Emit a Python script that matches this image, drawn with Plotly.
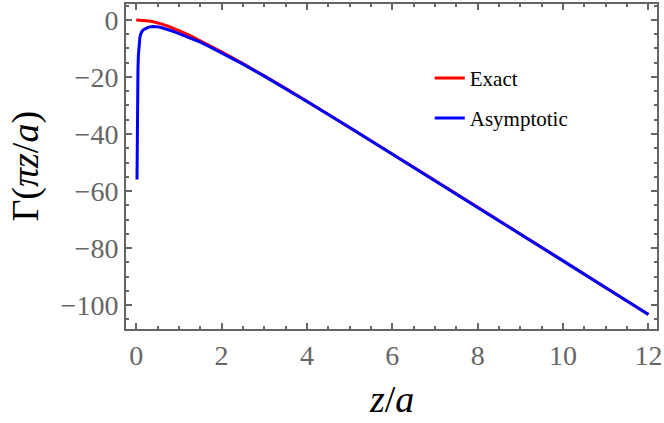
import plotly.graph_objects as go

# values
z_exact = [0, 0.1, 0.2, 0.3, 0.4, 0.5, 0.6, 0.75, 0.9, 1.0, 1.25, 1.5, 1.75, 2,
           2.5, 3, 3.5, 4, 5, 6, 7, 8, 9, 10, 11, 12]
gamma_exact = [0, -0.05, -0.2, -0.4, -0.65, -1.0, -1.45, -2.2, -3.0, -3.7, -5.4,
               -7.3, -9.2, -11.2, -15.3, -19.5, -24.0, -28.5, -37.7, -47.0,
               -56.3, -65.7, -75.1, -84.5, -93.9, -103.3]

z_asym = [0.018, 0.022, 0.027, 0.033, 0.04, 0.05, 0.06, 0.07, 0.085, 0.1, 0.13,
          0.17, 0.22, 0.29, 0.38, 0.48, 0.6, 0.75, 0.9, 1.0, 1.25, 1.5, 1.75, 2,
          2.5, 3, 3.5, 4, 5, 6, 7, 8, 9, 10, 11, 12]
gamma_asym = [-56, -42, -31, -23, -17.5, -12.5, -9.5, -7.8, -6.2, -5.2, -4.1,
              -3.4, -2.9, -2.5, -2.3, -2.35, -2.75, -3.4, -4.2, -4.8, -6.2, -7.8,
              -9.6, -11.5, -15.5, -19.7, -24.1, -28.6, -37.7, -47.0, -56.3,
              -65.7, -75.1, -84.5, -93.9, -103.3]

x_ticks = [0, 2, 4, 6, 8, 10, 12]
y_ticks = [0, -20, -40, -60, -80, -100]

FRAME = '#666666'
SERIF = 'Liberation Serif, Times New Roman, serif'

fig = go.Figure()

fig.add_trace(go.Scatter(
    x=z_exact, y=gamma_exact, mode='lines', name='Exact',
    line=dict(color='#ff0000', width=3), legend='legend'
))
fig.add_trace(go.Scatter(
    x=z_asym, y=gamma_asym, mode='lines', name='Asymptotic',
    line=dict(color='#0000ff', width=3), legend='legend2'
))

axis_common = dict(
    showline=True, linecolor=FRAME, linewidth=2, mirror='ticks',
    ticks='inside', ticklen=6, tickwidth=2, tickcolor=FRAME,
    showgrid=False, zeroline=False,
    tickfont=dict(family=SERIF, size=28, color=FRAME),
)

legend_common = dict(
    xanchor='left', yanchor='middle', bgcolor='rgba(0,0,0,0)',
    font=dict(family=SERIF, size=21, color='black'),
)

fig.update_layout(
    width=664, height=423,
    margin=dict(l=126, r=6, t=2, b=94),
    paper_bgcolor='white', plot_bgcolor='white',
    showlegend=True,
    legend=dict(x=0.572, y=0.771, **legend_common),
    legend2=dict(x=0.572, y=0.648, **legend_common),
    xaxis=dict(
        range=[-0.24, 12.2], tickvals=x_ticks,
        minor=dict(dtick=0.5, ticks='inside', ticklen=3, tickwidth=1.5, tickcolor=FRAME),
        **axis_common
    ),
    yaxis=dict(
        range=[-108.4, 5.6], tickvals=y_ticks,
        minor=dict(dtick=5, ticks='inside', ticklen=3, tickwidth=1.5, tickcolor=FRAME),
        **axis_common
    ),
    annotations=[
        dict(text='<i>z</i>/<i>a</i>', xref='paper', yref='paper',
             x=0.5, y=-0.215, xanchor='center', yanchor='middle', showarrow=False,
             font=dict(family=SERIF, size=38, color='black')),
        dict(text='Γ(<i>πz</i>/<i>a</i>)', xref='paper', yref='paper',
             x=-0.19, y=0.5, xanchor='center', yanchor='middle', showarrow=False,
             textangle=-90, font=dict(family=SERIF, size=38, color='black')),
    ],
)

fig.write_html("out.html", config={'displayModeBar': False},
               post_script="document.body.style.margin='0';")
